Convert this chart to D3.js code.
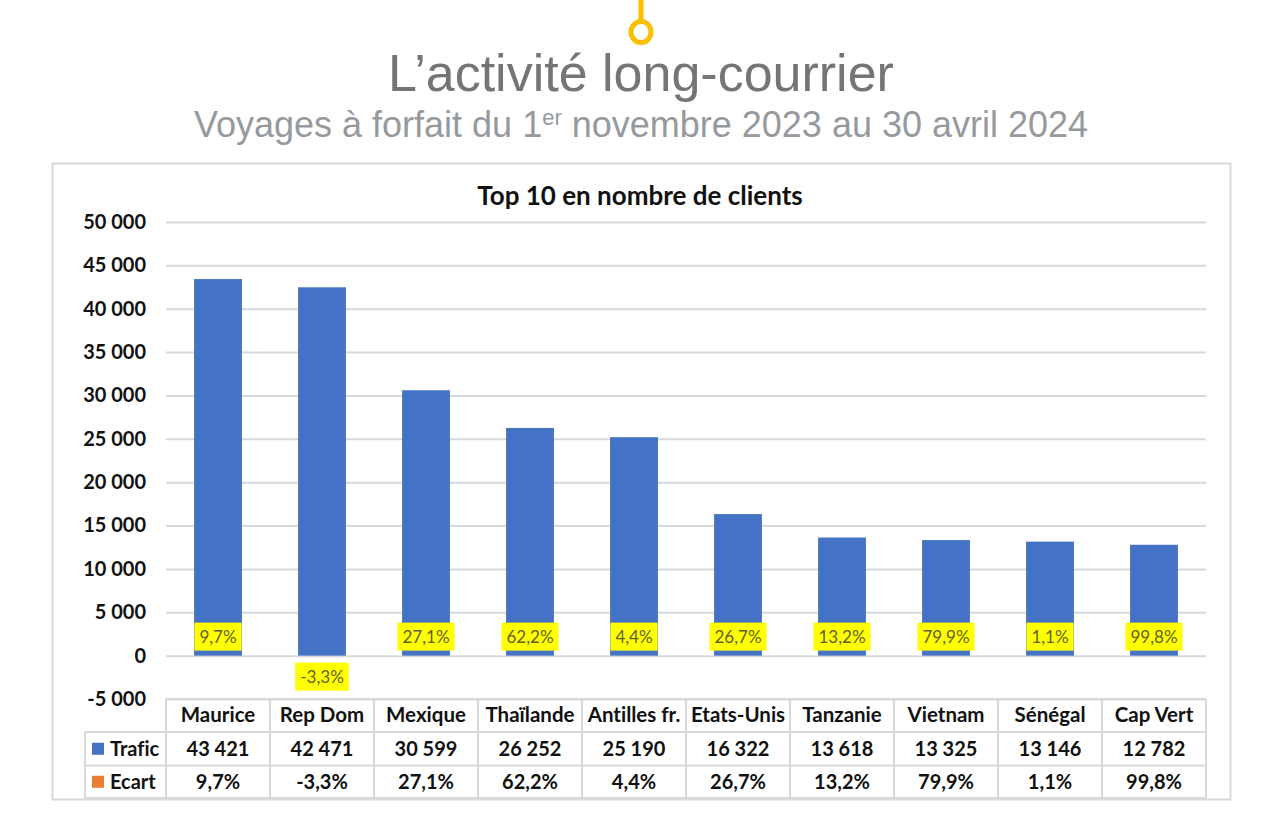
<!DOCTYPE html>
<html>
<head>
<meta charset="utf-8">
<script src="https://cdn.jsdelivr.net/npm/d3@7"></script>
<style>
html, body { margin: 0; padding: 0; background: #fff; }
svg { display: block; }
text { font-family: Lato, "Open Sans", sans-serif; font-variant-ligatures: none; }
</style>
</head>
<body>
<svg id="chart" width="1287" height="825"></svg>
<script>
var categories = ["Maurice", "Rep Dom", "Mexique", "Thaïlande", "Antilles fr.", "Etats-Unis", "Tanzanie", "Vietnam", "Sénégal", "Cap Vert"];
var trafic = [43421, 42471, 30599, 26252, 25190, 16322, 13618, 13325, 13146, 12782];
var ecart = [9.7, -3.3, 27.1, 62.2, 4.4, 26.7, 13.2, 79.9, 1.1, 99.8];
var yTicks = [-5000, 0, 5000, 10000, 15000, 20000, 25000, 30000, 35000, 40000, 45000, 50000];

var BLUE = "#4472c4", ORANGE = "#ed7d31", GRID = "#d9d9d9", INK = "#111";
var svg = d3.select("#chart");

function fmtThousands(v) {
    // french style: space between thousands, plain hyphen for negatives
    return d3.format(",")(v).replace(/,/g, " ").replace("\u2212", "-");
}
function fmtPct(v) {
    return v.toFixed(1).replace(".", ",") + "%";
}

// header
svg.append("line").attr("x1", 641).attr("x2", 641).attr("y1", 0).attr("y2", 22)
    .attr("stroke", "#fbbf00").attr("stroke-width", 5);
svg.append("ellipse").attr("cx", 641).attr("cy", 32).attr("rx", 10).attr("ry", 10.5)
    .attr("fill", "#fff").attr("stroke", "#fbbf00").attr("stroke-width", 5);
svg.append("text").attr("x", 641).attr("y", 91).attr("text-anchor", "middle")
    .style("font-family", "Liberation Sans").style("font-size", "52px").attr("fill", "#757575")
    .text("L’activité long-courrier");
var sub = svg.append("text").attr("x", 641).attr("y", 137).attr("text-anchor", "middle")
    .style("font-family", "Liberation Sans").style("font-size", "36px").attr("fill", "#969a9d");
sub.append("tspan").text("Voyages à forfait du 1");
sub.append("tspan").attr("dy", -12).style("font-size", "22px").text("er");
sub.append("tspan").attr("dy", 12).text(" novembre 2023 au 30 avril 2024");

// chart frame
svg.append("rect").attr("x", 52.5).attr("y", 163.5).attr("width", 1178).attr("height", 636)
    .attr("fill", "#fff").attr("stroke", GRID).attr("stroke-width", 2);

svg.append("text").attr("x", 640).attr("y", 205).attr("text-anchor", "middle")
    .style("font-size", "26px").style("font-weight", 700).attr("fill", INK)
    .text("Top 10 en nombre de clients");

var x = d3.scaleBand().domain(categories).range([166, 1206]).paddingInner(0.54).paddingOuter(0.27);
var y = d3.scaleLinear().domain([-5000, 50000]).range([699, 222]);

// gridlines + y labels
var yAxis = d3.axisLeft(y).tickValues(yTicks).tickSize(-(1206 - 166)).tickPadding(20)
    .tickFormat(fmtThousands);
var gy = svg.append("g").attr("transform", "translate(166,0)").call(yAxis);
gy.select(".domain").remove();
gy.selectAll("line").attr("stroke", GRID).attr("stroke-width", 2);
gy.selectAll("text").style("font-family", "Lato").style("font-size", "20px")
    .style("font-weight", 700).attr("fill", INK);

// bars
svg.append("g").selectAll("rect").data(categories).enter().append("rect")
    .attr("x", function (d) { return x(d); })
    .attr("width", x.bandwidth())
    .attr("y", function (d, i) { return y(trafic[i]); })
    .attr("height", function (d, i) { return y(0) - y(trafic[i]); })
    .attr("fill", BLUE);

// yellow ecart labels
var labels = svg.append("g").selectAll("g").data(ecart).enter().append("g")
    .attr("transform", function (d, i) {
        return "translate(" + (x(categories[i]) + x.bandwidth() / 2) + "," + (d < 0 ? y(0) + 21 : y(0) - 19) + ")";
    });
var labelRects = labels.append("rect").attr("fill", "#ffff00");
var labelTexts = labels.append("text").attr("text-anchor", "middle").attr("dy", "0.35em")
    .style("font-size", "17px").attr("fill", "#5f5f2a").text(fmtPct);
labelTexts.each(function (d, i) {
    var w = this.getComputedTextLength() + 10;
    d3.select(labelRects.nodes()[i]).attr("x", -w / 2).attr("y", -14).attr("width", w).attr("height", 28);
});

// data table below the plot
var rowY = [699, 732, 765.5, 798];
var tableX = 85, tableRight = 1206, bandStep = x.step();
var grid = svg.append("g").attr("stroke", GRID).attr("stroke-width", 2);
rowY.forEach(function (ry, i) {
    grid.append("line").attr("x1", i == 0 ? 166 : tableX).attr("x2", tableRight).attr("y1", ry).attr("y2", ry);
});
grid.append("line").attr("x1", tableX).attr("x2", tableX).attr("y1", rowY[1]).attr("y2", rowY[3]);
d3.range(categories.length + 1).forEach(function (i) {
    var cx = 166 + i * bandStep;
    grid.append("line").attr("x1", cx).attr("x2", cx).attr("y1", rowY[0]).attr("y2", rowY[3]);
});

var rows = [categories, trafic.map(fmtThousands), ecart.map(fmtPct)];
rows.forEach(function (row, r) {
    svg.append("g").selectAll("text").data(row).enter().append("text")
        .attr("x", function (d, i) { return x(categories[i]) + x.bandwidth() / 2; })
        .attr("y", (rowY[r] + rowY[r + 1]) / 2 - (r == 0 ? 1 : 0))
        .attr("dy", "0.35em").attr("text-anchor", "middle")
        .style("font-size", r == 0 ? "20.5px" : "20px").style("font-weight", 700).attr("fill", INK)
        .text(function (d) { return d; });
});

// legend keys inside the table
[["Trafic", BLUE], ["Ecart", ORANGE]].forEach(function (k, i) {
    var cy = (rowY[i + 1] + rowY[i + 2]) / 2;
    svg.append("rect").attr("x", 92).attr("y", cy - 6).attr("width", 12).attr("height", 12).attr("fill", k[1]);
    svg.append("text").attr("x", 110).attr("y", cy).attr("dy", "0.35em")
        .style("font-size", "20px").style("font-weight", 700).attr("fill", INK).text(k[0]);
});
</script>
</body>
</html>
